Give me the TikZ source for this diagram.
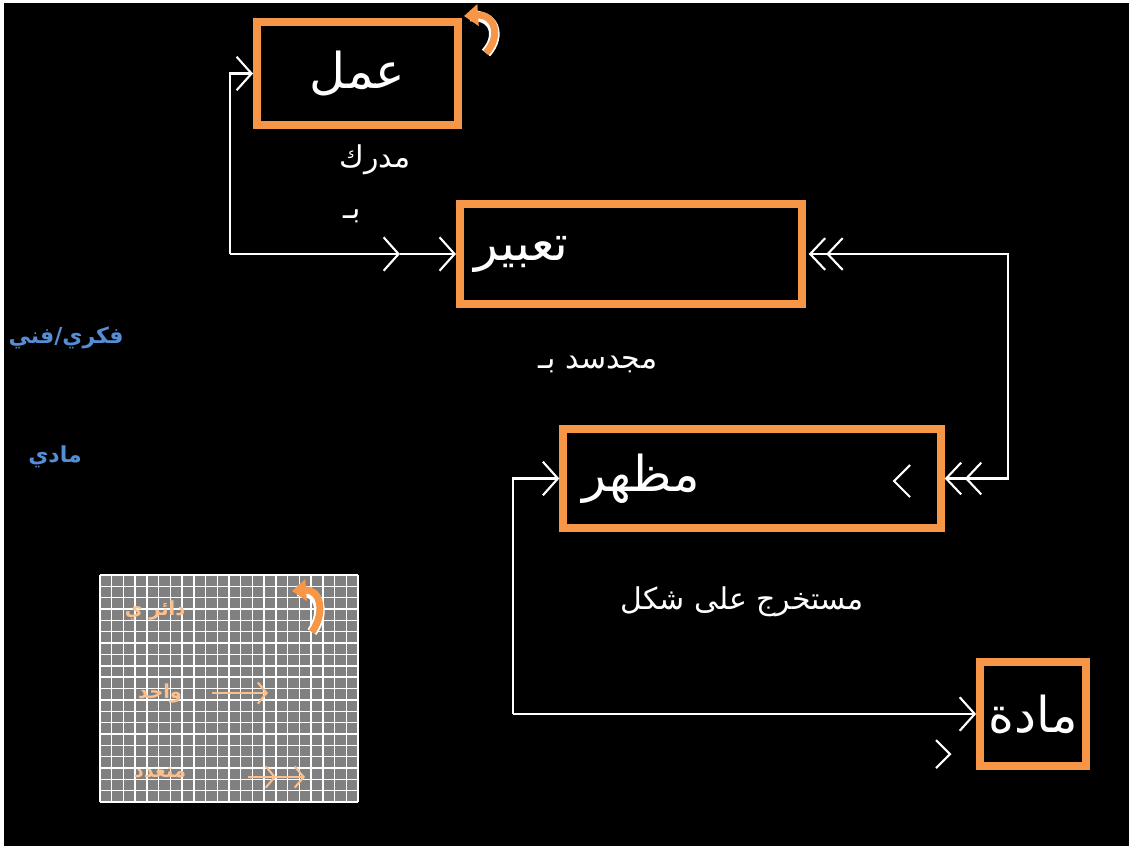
\documentclass[tikz,border=0pt]{standalone}
\usepackage{fontspec}
\usetikzlibrary{arrows.meta}
\TeXXeTstate=1
\newfontfamily\arabicfont[Script=Arabic]{DejaVu Sans}
\definecolor{boxorange}{RGB}{247,150,70}
\definecolor{lightorange}{RGB}{250,192,144}
\definecolor{labelblue}{RGB}{85,142,213}
\definecolor{legendgray}{RGB}{128,128,128}
\newcommand{\artext}[1]{\arabicfont\beginR #1\endR}

\begin{document}
\begin{tikzpicture}[x=0.567pt, y=-0.567pt,
  box/.style={draw=boxorange, line width=4.5pt, text=white, inner sep=0pt,
    font=\fontsize{28}{32}\selectfont},
  conn/.style={draw=white, line width=1.2pt, -{Straight Barb[length=8.5pt,width=19pt]}},
  dconn/.style={draw=white, line width=1.2pt,
    {Straight Barb[length=8.5pt,width=18pt,sep=1.5pt]Straight Barb[length=8.5pt,width=18pt]}-{Straight Barb[length=8.5pt,width=18pt,sep=1.5pt]Straight Barb[length=8.5pt,width=18pt]}},
  chevron/.style={draw=white, line width=1.2pt},
  note/.style={text=white, font=\fontsize{17}{20}\selectfont},
  side/.style={text=labelblue, font=\bfseries\fontsize{12.5}{15}\selectfont},
  legend/.style={text=lightorange, font=\bfseries\fontsize{11}{13}\selectfont},
  legarrow/.style={draw=lightorange, line width=1.2pt, -{Straight Barb[length=5pt,width=12pt]}},
  curvout/.style={draw=white, line width=6pt},
  curvin/.style={draw=boxorange, line width=4pt, -{Triangle[length=8pt,width=12pt]}}
]
  \useasboundingbox (0,0) rectangle (1129,849);
  % background with thin light frame
  \fill[white] (0,0) rectangle (1129,849);
  \fill[black] (4,3) rectangle (1129,846);

  % boxes
  \node[box, minimum width=114pt, minimum height=58pt] (amal) at (357.5,73.5) {\artext{عمل}};
  \node[box, minimum width=194pt, minimum height=57pt, text width=178pt, inner xsep=8pt, align=left]
    (tabir) at (631,254) {\artext{تعبير}};
  \node[box, minimum width=214pt, minimum height=56pt, text width=192pt, inner xsep=11pt, align=left]
    (mazhar) at (752,478.5) {\artext{مظهر}};
  \node[box, minimum width=60pt, minimum height=59pt] (madda) at (1033,714) {\artext{مادة}};

  % connector labels
  \node[note] (mudrik) at (375,160) {\artext{مدرك}};
  \node[note] (bi) at (352,216) {\artext{بـ}};
  \node[note] (mujassad) at (598,364) {\artext{مجدسد بـ}};
  \node[note] (mustakhraj) at (742,602) {\artext{مستخرج على شكل}};

  % side labels
  \node[side] (fikri) at (66,338) {\artext{فكري/فني}};
  \node[side] (maddi) at (55,457) {\artext{مادي}};

  % left connector: عمل and تعبير
  \coordinate (c1) at (230,254);
  \coordinate (m1) at (400,254);
  \draw[conn] (c1) |- (amal.west);
  \draw[conn] (c1) -- (m1);
  \draw[conn] (m1) -- (tabir.west);

  % right connector: تعبير and مظهر
  \coordinate (c2) at (1008,254);
  \draw[dconn] (tabir.east) -- (c2) |- (mazhar.east);

  % lower connector: مظهر and مادة
  \coordinate (c3) at (513,714);
  \draw[conn] (c3) |- (mazhar.west);
  \draw[conn] (c3) -- (madda.west);

  % loose chevrons
  \draw[chevron] (910,465) -- (894,481) -- (910,497);
  \draw[chevron] (936,740) -- (950,754) -- (936,768);

  % curved arrow on عمل
  \draw[curvout] (486,53) .. controls (502,35) and (494,14) .. (470,16);
  \draw[curvin] (486,53) .. controls (502,35) and (494,14) .. (464,16);

  % legend
  \fill[legendgray] (100,575) rectangle (358,802);
  \foreach \i in {0,...,22}
    \draw[white, line width=0.8pt] (100+\i*11.727,575) -- (100+\i*11.727,802);
  \foreach \j in {0,...,20}
    \draw[white, line width=0.8pt] (100,575+\j*11.35) -- (358,575+\j*11.35);
  \node[legend] (lcirc) at (155,610) {\artext{دائر ي}};
  \node[legend] (lsingle) at (160,693) {\artext{واحد}};
  \node[legend] (lmulti) at (160,773) {\artext{متعدد}};
  \draw[curvout] (312,632) .. controls (326,612) and (320,589) .. (297,591);
  \draw[curvin] (312,632) .. controls (326,612) and (320,589) .. (292,591);
  \coordinate (s1) at (212,693);
  \coordinate (s2) at (268,693);
  \draw[legarrow] (s1) -- (s2);
  \coordinate (d1) at (248,777);
  \coordinate (d2) at (276,777);
  \coordinate (d3) at (305,777);
  \draw[legarrow] (d1) -- (d2);
  \draw[legarrow] (d2) -- (d3);
\end{tikzpicture}
\end{document}
